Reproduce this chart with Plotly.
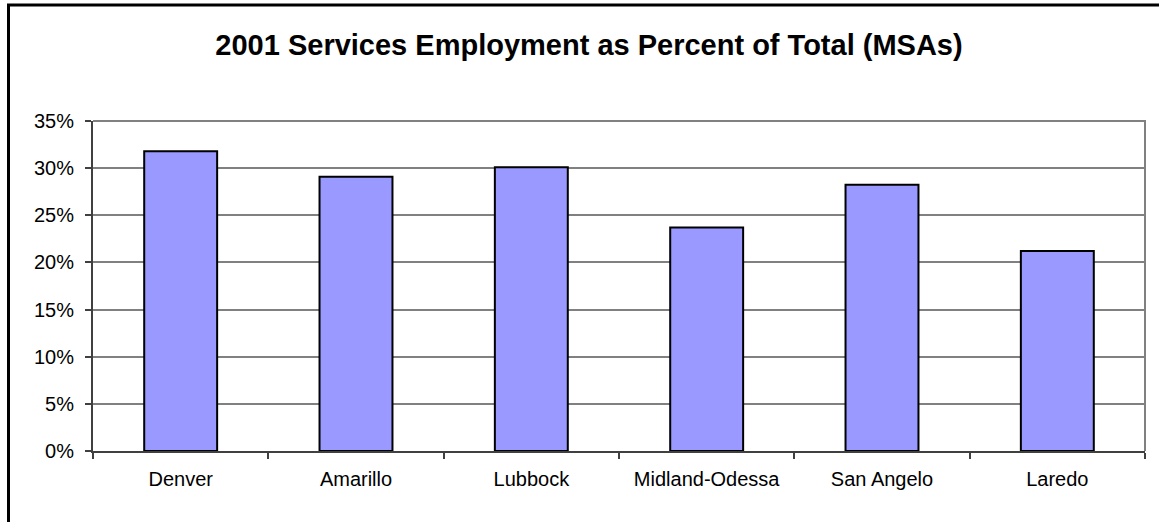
import plotly.graph_objects as go

# Services employment share by metropolitan statistical area, 2001
msas = ["Denver", "Amarillo", "Lubbock", "Midland-Odessa", "San Angelo", "Laredo"]
services_share = [0.318, 0.291, 0.301, 0.237, 0.2825, 0.212]
y_ticks = [0, 0.05, 0.10, 0.15, 0.20, 0.25, 0.30, 0.35]
y_tick_text = ["0%", "5%", "10%", "15%", "20%", "25%", "30%", "35%"]

W, H = 1159, 522
M_L, M_R, M_T, M_B = 93, 14, 121, 71
PW, PH = W - M_L - M_R, H - M_T - M_B


def px_x(p):
    return (p - M_L) / PW


def px_y(p):
    return (H - M_B - p) / PH


fig = go.Figure(
    go.Bar(
        x=msas,
        y=services_share,
        marker=dict(color="#9999FF", line=dict(color="#000000", width=2)),
        hoverinfo="x+y",
    )
)

font = "Liberation Sans, Arial, sans-serif"

fig.update_layout(
    width=W,
    height=H,
    margin=dict(l=M_L, r=M_R, t=M_T, b=M_B),
    paper_bgcolor="white",
    plot_bgcolor="white",
    bargap=0.584,
    showlegend=False,
    title=dict(
        text="<b>2001 Services Employment as Percent of Total (MSAs)</b>",
        font=dict(family=font, size=29, color="#000000"),
        x=589 / W,
        xanchor="center",
        xref="container",
        y=1 - 45 / H,
        yanchor="middle",
        yref="container",
    ),
    xaxis=dict(
        tickson="boundaries",
        ticks="outside",
        ticklen=6,
        tickwidth=1.5,
        tickcolor="#404040",
        showline=True,
        linecolor="#404040",
        linewidth=2,
        showgrid=False,
        tickfont=dict(family=font, size=20, color="#000000"),
        ticklabelstandoff=9,
    ),
    yaxis=dict(
        range=[0, 0.35],
        tickvals=y_ticks,
        ticktext=y_tick_text,
        ticks="outside",
        ticklen=6,
        tickwidth=1.5,
        tickcolor="#404040",
        showline=True,
        linecolor="#404040",
        linewidth=2,
        showgrid=True,
        gridcolor="#808080",
        gridwidth=1.5,
        zeroline=False,
        tickfont=dict(family=font, size=20, color="#000000"),
        ticklabelstandoff=7,
    ),
    shapes=[
        # plot area border (top and right edges)
        dict(
            type="path",
            xref="paper",
            yref="paper",
            path="M 0,1 L 1,1 L 1,0",
            line=dict(color="#808080", width=2),
            layer="below",
        ),
        # outer chart frame
        dict(
            type="rect",
            xref="paper",
            yref="paper",
            x0=px_x(8.5),
            x1=px_x(W + 10),
            y0=px_y(H + 10),
            y1=px_y(5),
            line=dict(color="#000000", width=3),
            fillcolor="rgba(0,0,0,0)",
            layer="above",
        ),
    ],
)

fig.write_html("out.html")
